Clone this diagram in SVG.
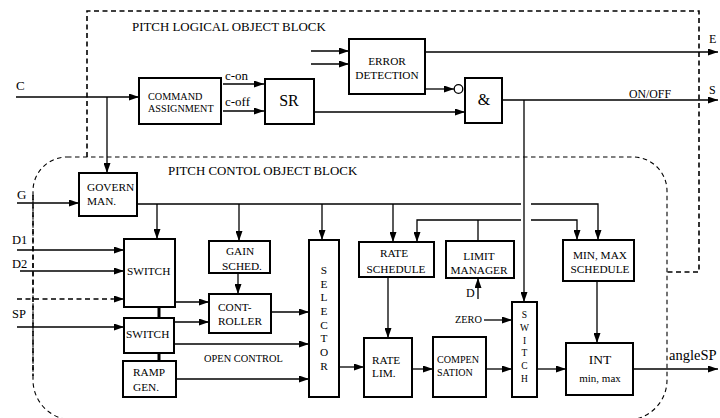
<svg xmlns="http://www.w3.org/2000/svg" width="720" height="418" viewBox="0 0 720 418">
<style>
.box{fill:#fff;stroke:#000;stroke-width:2}
.ln{fill:none;stroke:#000;stroke-width:1.3}
.t{font-family:"Liberation Serif","Times New Roman",serif;font-size:11.3px;fill:#000}
.c{text-anchor:middle}
.blk{fill:none;stroke:#000;stroke-width:1.6;stroke-dasharray:5 3.5}
.blk2{fill:none;stroke:#000;stroke-width:1.1;stroke-dasharray:4.5 3.5}
</style>
<defs>
<marker id="ah" markerUnits="userSpaceOnUse" markerWidth="10" markerHeight="7" refX="10" refY="3.5" orient="auto">
<path d="M0,0 L10,3.5 L0,7 z" fill="#000"/>
</marker>
</defs>
<rect width="720" height="418" fill="#fff"/>

<g id="logical-block">
<path class="blk" d="M87,157 V11 H699 V272 H667"/>
<text class="t" x="132" y="31" style="font-size:12.9px">PITCH LOGICAL OBJECT BLOCK</text>
</g>
<g id="control-block">
<path class="blk2" d="M67,157 H633 A34,34 0 0 1 667,191 V380 A40,40 0 0 1 627,420 H73 A40,40 0 0 1 33,380 V191 A34,34 0 0 1 67,157 Z"/>
<path class="blk" d="M33,195 V376"/>
<text class="t" x="168" y="175" style="font-size:12.9px">PITCH CONTOL OBJECT BLOCK</text>
</g>

<g id="connectors">
<path class="ln" d="M16,97 H139" marker-end="url(#ah)"/>
<path class="ln" d="M107,97 V173" marker-end="url(#ah)"/>
<path class="ln" d="M223,84 H264" marker-end="url(#ah)"/>
<path class="ln" d="M223,111 H264" marker-end="url(#ah)"/>
<path class="ln" d="M311,51 H349" marker-end="url(#ah)"/>
<path class="ln" d="M311,64 H349" marker-end="url(#ah)"/>
<path class="ln" d="M425,52 H718" marker-end="url(#ah)"/>
<path class="ln" d="M425,89 H454" marker-end="url(#ah)"/>
<circle cx="458.5" cy="89" r="4.3" fill="#fff" stroke="#000" stroke-width="1.3"/>
<path class="ln" d="M314,112 H465" marker-end="url(#ah)"/>
<path class="ln" d="M502,100 H718" marker-end="url(#ah)"/>
<path class="ln" d="M524,100 V302" marker-end="url(#ah)"/>
<path class="ln" d="M17,203 H79" marker-end="url(#ah)"/>
<path class="ln" d="M137,204 H521"/>
<path class="ln" d="M531,204 H598 V240" marker-end="url(#ah)"/>
<path class="ln" d="M157,204 V239" marker-end="url(#ah)"/>
<path class="ln" d="M239,204 V241" marker-end="url(#ah)"/>
<path class="ln" d="M322,204 V240" marker-end="url(#ah)"/>
<path class="ln" d="M393,204 V242" marker-end="url(#ah)"/>
<path class="ln" d="M478,241 V220"/>
<path class="ln" d="M521,220 H417 V242" marker-end="url(#ah)"/>
<path class="ln" d="M531,220 H577 V240" marker-end="url(#ah)"/>
<path class="ln" d="M17,250 H124" marker-end="url(#ah)"/>
<path class="ln" d="M20,271 H124" marker-end="url(#ah)"/>
<path class="ln" d="M17,299 H113" style="stroke-width:1.6;stroke-dasharray:5 3.5"/>
<path class="ln" d="M113,299 H124" marker-end="url(#ah)"/>
<path class="ln" d="M238,273 V294" marker-end="url(#ah)"/>
<path class="ln" d="M175,302 H209" marker-end="url(#ah)"/>
<path class="ln" d="M174,322 H209" marker-end="url(#ah)"/>
<path class="ln" d="M159,307 V318 M159,353 V361" style="stroke-width:3"/>
<path class="ln" d="M17,327 H124" marker-end="url(#ah)"/>
<path class="ln" d="M174,344 H309" marker-end="url(#ah)"/>
<path class="ln" d="M176,379 H309" marker-end="url(#ah)"/>
<path class="ln" d="M271,312 H309" marker-end="url(#ah)"/>
<path class="ln" d="M339,367 H364" marker-end="url(#ah)"/>
<path class="ln" d="M388,277 V338" marker-end="url(#ah)"/>
<path class="ln" d="M478,299 V278" marker-end="url(#ah)"/>
<path class="ln" d="M484,320 H512" marker-end="url(#ah)"/>
<path class="ln" d="M410,369 H433" marker-end="url(#ah)"/>
<path class="ln" d="M486,369 H512" marker-end="url(#ah)"/>
<path class="ln" d="M537,369 H566" marker-end="url(#ah)"/>
<path class="ln" d="M597,281 V343" marker-end="url(#ah)"/>
<path class="ln" d="M633,369 H718" marker-end="url(#ah)"/>
</g>

<g id="labels">
<text class="t" x="16" y="90" style="font-size:13px">C</text>
<text class="t" x="17" y="199" style="font-size:13px">G</text>
<text class="t" x="12" y="244" style="font-size:12.5px">D1</text>
<text class="t" x="12" y="268" style="font-size:12.5px">D2</text>
<text class="t" x="12" y="318" style="font-size:12.5px">SP</text>
<text class="t" x="709" y="43" style="font-size:12px">E</text>
<text class="t" x="709" y="94" style="font-size:12px">S</text>
<text class="t" x="629" y="98" style="font-size:11.8px">ON/OFF</text>
<text class="t" x="225" y="80" style="font-size:13px">c-on</text>
<text class="t" x="225" y="106" style="font-size:13px">c-off</text>
<text class="t" x="204" y="362" style="font-size:10.4px">OPEN CONTROL</text>
<text class="t" x="455" y="323" style="font-size:10.3px">ZERO</text>
<text class="t" x="466" y="297" style="font-size:12px">D</text>
<text class="t" x="669" y="360" style="font-size:14.5px">angleSP</text>
</g>

<g id="command-assignment">
<rect class="box" x="139" y="78" width="82" height="46"/>
<text class="t" x="148" y="100" style="font-size:10.2px">COMMAND</text>
<text class="t" x="148" y="112" style="font-size:10.2px">ASSIGNMENT</text>
</g>
<g id="sr">
<rect class="box" x="265" y="79" width="49" height="45"/>
<text class="t c" x="289" y="106" style="font-size:16px">SR</text>
</g>
<g id="error-detection">
<rect class="box" x="349" y="39" width="76" height="55"/>
<text class="t c" x="387" y="65">ERROR</text>
<text class="t c" x="387" y="79">DETECTION</text>
</g>
<g id="and">
<rect class="box" x="465" y="78" width="37" height="45"/>
<text class="t c" x="484" y="105" style="font-size:16px">&amp;</text>
</g>
<g id="govern-man">
<rect class="box" x="79" y="173" width="58" height="43"/>
<text class="t" x="87" y="191">GOVERN</text>
<text class="t" x="87" y="205">MAN.</text>
</g>
<g id="switch-1">
<rect class="box" x="124" y="239" width="51" height="68"/>
<text class="t" x="127" y="275">SWITCH</text>
</g>
<g id="gain-sched">
<rect class="box" x="209" y="241" width="61" height="32"/>
<text class="t c" x="240" y="255">GAIN</text>
<text class="t c" x="242" y="270">SCHED.</text>
</g>
<g id="controller">
<rect class="box" x="209" y="294" width="62" height="39"/>
<text class="t" x="218" y="311">CONT-</text>
<text class="t" x="218" y="325">ROLLER</text>
</g>
<g id="switch-2">
<rect class="box" x="124" y="318" width="50" height="35"/>
<text class="t" x="126" y="338">SWITCH</text>
</g>
<g id="ramp-gen">
<rect class="box" x="123" y="361" width="53" height="36"/>
<text class="t" x="133" y="376">RAMP</text>
<text class="t" x="133" y="391">GEN.</text>
</g>
<g id="selector">
<rect class="box" x="309" y="240" width="30" height="157"/>
<text class="t c" x="324" y="274">S</text>
<text class="t c" x="324" y="288">E</text>
<text class="t c" x="324" y="301">L</text>
<text class="t c" x="324" y="315">E</text>
<text class="t c" x="324" y="329">C</text>
<text class="t c" x="324" y="342">T</text>
<text class="t c" x="324" y="356">O</text>
<text class="t c" x="324" y="370">R</text>
</g>
<g id="rate-schedule">
<rect class="box" x="359" y="242" width="75" height="35"/>
<text class="t c" x="394" y="257">RATE</text>
<text class="t c" x="396" y="273">SCHEDULE</text>
</g>
<g id="limit-manager">
<rect class="box" x="446" y="241" width="68" height="37"/>
<text class="t c" x="479" y="260">LIMIT</text>
<text class="t c" x="479" y="274">MANAGER</text>
</g>
<g id="min-max-schedule">
<rect class="box" x="563" y="240" width="71" height="41"/>
<text class="t c" x="600" y="259">MIN, MAX</text>
<text class="t c" x="600" y="273">SCHEDULE</text>
</g>
<g id="rate-lim">
<rect class="box" x="364" y="338" width="48" height="59"/>
<text class="t" x="372" y="364">RATE</text>
<text class="t" x="372" y="377">LIM.</text>
</g>
<g id="compensation">
<rect class="box" x="433" y="337" width="53" height="60"/>
<text class="t" x="437" y="363" style="font-size:10.1px">COMPEN</text>
<text class="t" x="437" y="376" style="font-size:10.1px">SATION</text>
</g>
<g id="switch-3">
<rect class="box" x="512" y="302" width="25" height="95"/>
<text class="t c" x="524.5" y="318" style="font-size:9.5px">S</text>
<text class="t c" x="524.5" y="331" style="font-size:9.5px">W</text>
<text class="t c" x="524.5" y="344" style="font-size:9.5px">I</text>
<text class="t c" x="524.5" y="356" style="font-size:9.5px">T</text>
<text class="t c" x="524.5" y="369" style="font-size:9.5px">C</text>
<text class="t c" x="524.5" y="382" style="font-size:9.5px">H</text>
</g>
<g id="int">
<rect class="box" x="566" y="343" width="67" height="52"/>
<text class="t c" x="600" y="364" style="font-size:13.5px">INT</text>
<text class="t c" x="600" y="382" style="font-size:11px">min, max</text>
</g>
</svg>
